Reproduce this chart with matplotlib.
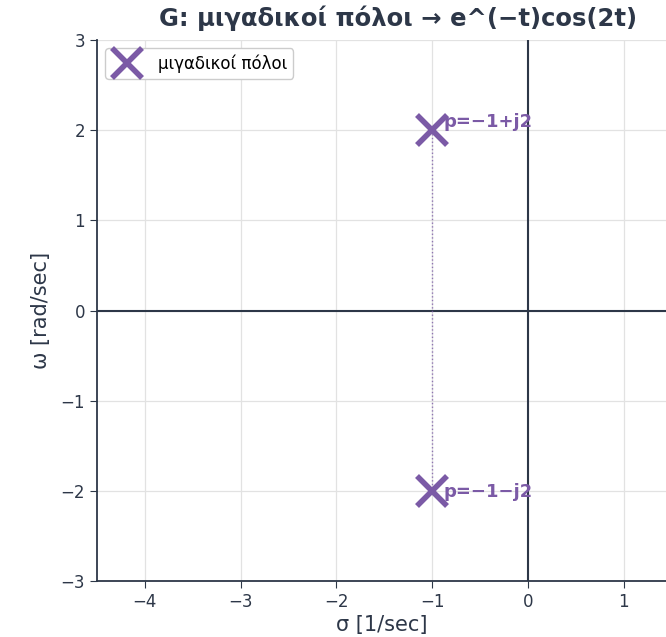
import matplotlib
matplotlib.use("Agg")
import matplotlib.pyplot as plt

# Poles of G: complex-conjugate pair
pole_re = [-1.0, -1.0]
pole_im = [2.0, -2.0]
pole_labels = ["p=−1+j2", "p=−1−j2"]

x_ticks = [-4, -3, -2, -1, 0, 1]
y_ticks = [-3, -2, -1, 0, 1, 2, 3]

purple = "#7b5aa6"
dark = "#2d3748"

plt.rcParams["font.family"] = ["DejaVu Sans"]

fig = plt.figure(figsize=(6.66, 6.37), dpi=100)
ax = fig.add_axes([0.1456, 0.088, 0.8544, 0.849])

ax.grid(True, color="#e2e2e2", linewidth=0.9)
ax.set_axisbelow(True)

ax.axhline(0, color=dark, linewidth=1.5, zorder=1)
ax.axvline(0, color=dark, linewidth=1.5, zorder=1)

# dotted guide joining the conjugate pair
ax.plot([pole_re[0], pole_re[1]], [pole_im[0], pole_im[1]], linestyle=":",
        color=purple, linewidth=1.0, alpha=0.8, zorder=2)

ax.plot(pole_re, pole_im, linestyle="none", marker="x", markersize=21,
        markeredgewidth=4, color=purple, label="μιγαδικοί πόλοι", zorder=3)

offsets = [(8, 6), (8, -1)]
for xr, yi, lab, off in zip(pole_re, pole_im, pole_labels, offsets):
    ax.annotate(lab, (xr, yi), xytext=off, textcoords="offset points",
                fontsize=13, fontweight="bold", color=purple,
                ha="left", va="center")

ax.set_xlim(-4.5, 1.44)
ax.set_ylim(-3, 3)
ax.set_xticks(x_ticks)
ax.set_yticks(y_ticks)
ax.tick_params(labelsize=12, colors=dark, length=5)

for side in ("top", "right"):
    ax.spines[side].set_visible(False)
for side in ("left", "bottom"):
    ax.spines[side].set_color(dark)
    ax.spines[side].set_linewidth(1.3)

ax.set_xlabel("σ [1/sec]", fontsize=15, color=dark, labelpad=3)
ax.set_ylabel("ω [rad/sec]", fontsize=15, color=dark, labelpad=7)
title = ax.set_title("G: μιγαδικοί πόλοι → e^(−t)cos(2t)", fontsize=17.5,
                     fontweight="bold", color=dark, pad=10)
title.set_x(0.53)

leg = ax.legend(loc="upper left", fontsize=12, framealpha=1,
                borderpad=0.35, handlelength=1.9, handletextpad=0.9)
leg.get_frame().set_edgecolor("#cccccc")

fig.savefig("out.png", dpi=100)
